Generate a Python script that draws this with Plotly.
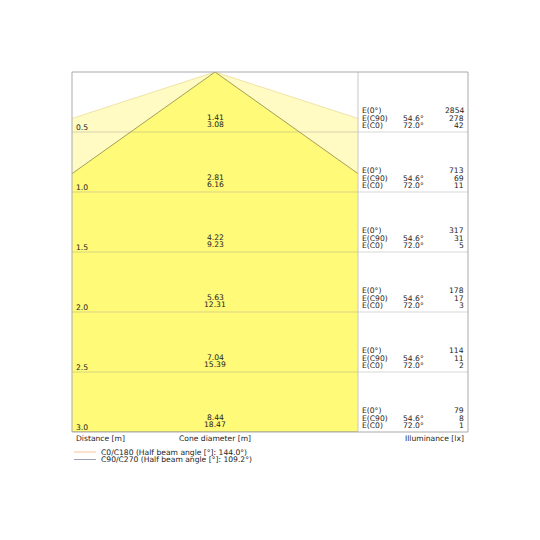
import plotly.graph_objects as go

# distances below the luminaire [m]
distances = [0.5, 1.0, 1.5, 2.0, 2.5, 3.0]
# cone diameters [m]
diam_c90 = [1.41, 2.81, 4.22, 5.63, 7.04, 8.44]
diam_c0 = [3.08, 6.16, 9.23, 12.31, 15.39, 18.47]
# illuminance [lx]
e_0 = [2854, 713, 317, 178, 114, 79]
e_c90 = [278, 69, 31, 17, 11, 8]
e_c0 = [42, 11, 5, 3, 2, 1]
angle_c90 = 54.6
angle_c0 = 72.0
legend_labels = ["C0/C180 (Half beam angle [°]: 144.0°)",
                 "C90/C270 (Half beam angle [°]: 109.2°)"]

FONT = "DejaVu Sans"
FS = 7.6
TXT = "#222222"

# the page body adds 8px, so the figure is 524 px and all pixel values are page coords
OFF = 8
W, H = 524, 524
L, R, T, B = 72, 468, 72, 432   # plot box on the page
DIV = 358                       # divider between cones and table
px_per_m = 120.0
half_w = (DIV - L) / 2 / px_per_m


def px(xp):
    return (xp - L) / (R - L)


def py(yp):
    return (B - yp) / (B - T)


fig = go.Figure()

d_max = distances[-1]
# outer cone C0
r0 = diam_c0[-1] / 2
fig.add_trace(go.Scatter(x=[-r0, 0, r0, -r0], y=[d_max, 0, d_max, d_max],
                         mode="lines", fill="toself", fillcolor="#fffbc2",
                         line=dict(color="#ecdc98", width=0.8),
                         hoverinfo="skip", showlegend=False))
# inner cone C90
r90 = diam_c90[-1] / 2
fig.add_trace(go.Scatter(x=[-r90, 0, r90, -r90], y=[d_max, 0, d_max, d_max],
                         mode="lines", fill="toself", fillcolor="#fffa78",
                         line=dict(color="#8c8648", width=0.8),
                         hoverinfo="skip", showlegend=False))

shapes = []
# grid lines at each distance
for d in distances[:-1]:
    shapes.append(dict(type="line", xref="paper", yref="y", x0=0, x1=1, y0=d, y1=d,
                       line=dict(color="rgba(140,140,140,0.35)", width=1), layer="above"))
# divider and frame
shapes.append(dict(type="line", xref="paper", yref="paper", x0=px(DIV), x1=px(DIV), y0=0, y1=1,
                   line=dict(color="#c8c8c8", width=1), layer="above"))
shapes.append(dict(type="rect", xref="paper", yref="paper", x0=0, x1=1, y0=0, y1=1,
                   line=dict(color="#aaaaaa", width=1), layer="above"))
# legend lines
leg_colors = ["#f5c49a", "#9aa3b5"]
for i, c in enumerate(leg_colors):
    yy = py(452 + 7.5 * i)
    shapes.append(dict(type="line", xref="paper", yref="paper", x0=px(74), x1=px(96),
                       y0=yy, y1=yy, line=dict(color=c, width=1)))

ann = []


def add_text(text, x, y, xanchor="left", yref="paper", yshift=0):
    ann.append(dict(text=text, x=x, y=y, xref="paper", yref=yref, xanchor=xanchor,
                    yanchor="middle", yshift=yshift, showarrow=False,
                    font=dict(family=FONT, size=FS, color=TXT), borderpad=0))


for i, d in enumerate(distances):
    add_text(f"{d:.1f}", px(75), d, yref="y", yshift=5)
    add_text(f"{diam_c90[i]:.2f}", px(215), d, xanchor="center", yref="y", yshift=14.2)
    add_text(f"{diam_c0[i]:.2f}", px(215), d, xanchor="center", yref="y", yshift=7.8)
    add_text("E(0°)", px(361), d, yref="y", yshift=21.5)
    add_text("E(C90)", px(361), d, yref="y", yshift=14)
    add_text("E(C0)", px(361), d, yref="y", yshift=6.5)
    add_text(f"{angle_c90:.1f}°", px(402), d, yref="y", yshift=14)
    add_text(f"{angle_c0:.1f}°", px(402), d, yref="y", yshift=6.5)
    add_text(str(e_0[i]), px(465), d, xanchor="right", yref="y", yshift=21.5)
    add_text(str(e_c90[i]), px(465), d, xanchor="right", yref="y", yshift=14)
    add_text(str(e_c0[i]), px(465), d, xanchor="right", yref="y", yshift=6.5)

add_text("Distance [m]", px(75), py(438.5))
add_text("Cone diameter [m]", px(215), py(438.5), xanchor="center")
add_text("Illuminance [lx]", px(465), py(438.5), xanchor="right")
for i, lab in enumerate(legend_labels):
    add_text(lab, px(100), py(452 + 7.5 * i))

fig.update_layout(
    width=W, height=H,
    margin=dict(l=L - OFF, r=W + OFF - R, t=T - OFF, b=H + OFF - B),
    paper_bgcolor="white", plot_bgcolor="white",
    xaxis=dict(domain=[0, px(DIV)], range=[-half_w, half_w], visible=False, fixedrange=True),
    yaxis=dict(range=[d_max, 0], visible=False, fixedrange=True),
    shapes=shapes, annotations=ann, showlegend=False,
)

fig.write_html("out.html")
